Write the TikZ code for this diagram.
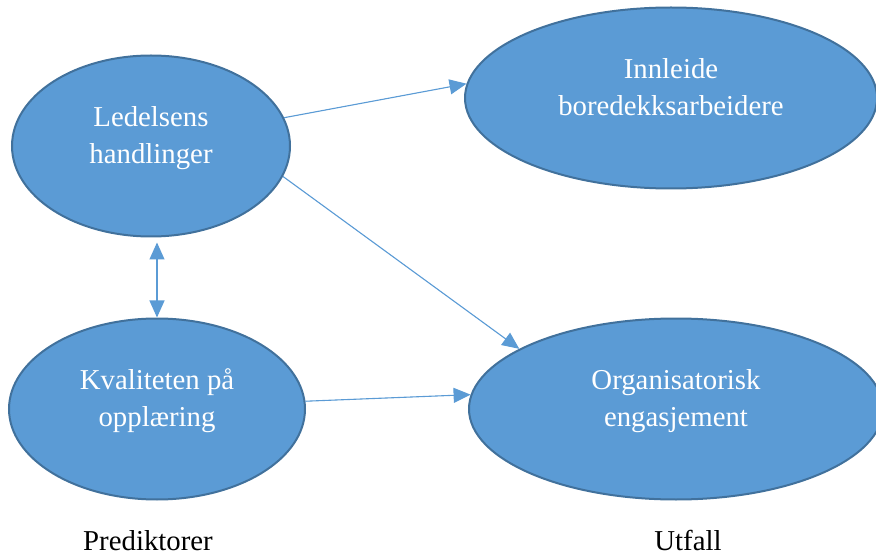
\documentclass[tikz,border=0pt]{standalone}
\usepackage{fontspec}
\setmainfont{Liberation Serif}
\usetikzlibrary{shapes, positioning, arrows.meta}
\definecolor{bubblefill}{HTML}{5B9BD5}
\definecolor{bubbleline}{HTML}{41719C}

\begin{document}
\begin{tikzpicture}[
  factor/.style={ellipse, draw=bubbleline, fill=bubblefill, line width=2pt,
                 text=white, align=center, text depth=22pt,
                 minimum height=181pt,
                 font=\fontsize{28.8}{37}\selectfont},
  caption/.style={inner sep=0pt, font=\fontsize{28.8}{37}\selectfont},
  link/.style={->, >={Triangle[length=17pt,width=15pt]}, line width=1.1pt,
               draw=bubblefill, fill=bubblefill}
]
  \useasboundingbox (0,0) rectangle (876pt,-556pt);

  \node[factor, minimum width=278pt] (ledelse) at (151pt,-146pt) {Ledelsens\\handlinger};
  \node[factor, minimum width=412pt, right=173pt of ledelse, yshift=48pt] (innleide) {Innleide\\boredekksarbeidere};
  \node[factor, minimum width=296pt, below=80pt of ledelse, xshift=6pt] (kvalitet) {Kvaliteten på\\opplæring};
  \node[factor, minimum width=414pt, right=162pt of kvalitet] (engasjement) {Organisatorisk\\engasjement};

  \node[caption, below=30pt of kvalitet, xshift=-9pt] (prediktorer) {Prediktorer};
  \node[caption, below=30pt of engasjement, xshift=12pt] (utfall) {Utfall};

  \draw[link] (ledelse.12) -- (innleide.176);
  \draw[link] (ledelse.-13) -- (engasjement.159);
  \draw[link] (kvalitet.3) -- (engasjement.176);
  \draw[link, <->, shorten <=5pt] (ledelse.south -| kvalitet.north) -- (kvalitet.north);

\end{tikzpicture}
\end{document}
